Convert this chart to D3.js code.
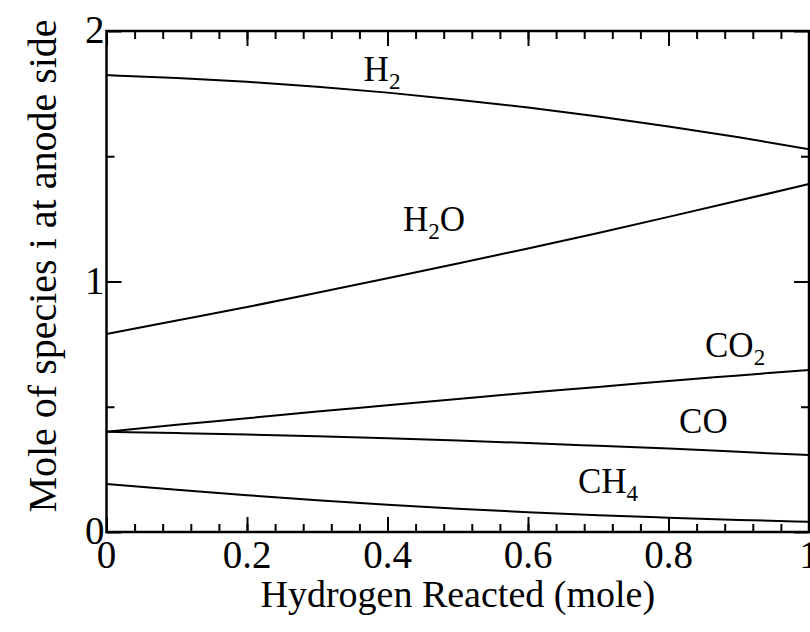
<!DOCTYPE html>
<html>
<head>
<meta charset="utf-8">
<script src="https://cdn.jsdelivr.net/npm/d3@7"></script>
<style>
  html, body { margin: 0; padding: 0; background: #ffffff; }
  svg { display: block; }
  text { font-family: "Liberation Serif", "Times New Roman", serif; fill: #000; }
</style>
</head>
<body>
<svg id="chart" width="810" height="632"></svg>
<script>
// Hydrogen reacted (mole) at which each species amount is given
const hydrogenReacted = [0, 0.1, 0.2, 0.3, 0.4, 0.5, 0.6, 0.7, 0.8, 0.9, 1.0];

// Moles of each species on the anode side
const h2  = [1.824, 1.812, 1.797, 1.777, 1.754, 1.726, 1.695, 1.659, 1.619, 1.576, 1.528];
const h2o = [0.790, 0.844, 0.898, 0.955, 1.013, 1.072, 1.132, 1.194, 1.258, 1.323, 1.389];
const co2 = [0.400, 0.428, 0.454, 0.481, 0.506, 0.531, 0.556, 0.579, 0.603, 0.625, 0.647];
const co  = [0.400, 0.395, 0.389, 0.382, 0.374, 0.365, 0.355, 0.344, 0.333, 0.320, 0.307];
const ch4 = [0.192, 0.169, 0.147, 0.127, 0.109, 0.093, 0.079, 0.067, 0.057, 0.048, 0.041];

// Axis tick values
const xMajorTicks = [0, 0.2, 0.4, 0.6, 0.8, 1];
const xTickLabels = ["0", "0.2", "0.4", "0.6", "0.8", "1"];
const xMinorTicks = d3.range(0, 1.0001, 0.04);
const yMajorTicks = [0, 1, 2];
const yTickLabels = ["0", "1", "2"];
const yMinorTicks = [0.5, 1.5];

// Curve labels: base text, subscript, trailing text, anchor point in data units
const seriesLabels = [
  { base: "H", sub: "2", tail: "",  x: 0.366, y: 1.80 },
  { base: "H", sub: "2", tail: "O", x: 0.422, y: 1.20 },
  { base: "CO", sub: "2", tail: "", x: 0.852, y: 0.698 },
  { base: "CO", sub: "",  tail: "", x: 0.815, y: 0.395 },
  { base: "CH", sub: "4", tail: "", x: 0.671, y: 0.155 }
];

const series = [h2, h2o, co2, co, ch4];

const svg = d3.select("#chart");
const plotLeft = 106.5, plotRight = 809, plotTop = 31, plotBottom = 532;

const x = d3.scaleLinear().domain([0, 1]).range([plotLeft, plotRight]);
const y = d3.scaleLinear().domain([0, 2]).range([plotBottom, plotTop]);

// Curves
const line = d3.line()
  .x((d, i) => x(hydrogenReacted[i]))
  .y(d => y(d))
  .curve(d3.curveMonotoneX);

svg.append("g")
  .selectAll("path")
  .data(series)
  .join("path")
  .attr("d", line)
  .attr("fill", "none")
  .attr("stroke", "#000")
  .attr("stroke-width", 2);

// Inward ticks on all four sides
function addAxis(axisGen, tx, ty, values, size) {
  const g = svg.append("g")
    .attr("transform", `translate(${tx},${ty})`)
    .call(axisGen.tickValues(values).tickSize(size).tickFormat(""));
  g.select(".domain").remove();
  g.selectAll(".tick line").attr("stroke", "#000").attr("stroke-width", 2);
  return g;
}
const majorLen = 15, minorLen = 8;
addAxis(d3.axisTop(x), 0, plotBottom, xMajorTicks, majorLen);
addAxis(d3.axisTop(x), 0, plotBottom, xMinorTicks, minorLen);
addAxis(d3.axisBottom(x), 0, plotTop, xMajorTicks, majorLen);
addAxis(d3.axisBottom(x), 0, plotTop, xMinorTicks, minorLen);
addAxis(d3.axisRight(y), plotLeft, 0, yMajorTicks, majorLen);
addAxis(d3.axisRight(y), plotLeft, 0, yMinorTicks, minorLen);
addAxis(d3.axisLeft(y), plotRight, 0, yMajorTicks, majorLen);
addAxis(d3.axisLeft(y), plotRight, 0, yMinorTicks, minorLen);

// Plot frame
svg.append("rect")
  .attr("x", plotLeft).attr("y", plotTop)
  .attr("width", plotRight - plotLeft).attr("height", plotBottom - plotTop)
  .attr("fill", "none")
  .attr("stroke", "#000")
  .attr("stroke-width", 2.5);

// Tick labels
svg.append("g")
  .selectAll("text")
  .data(xMajorTicks)
  .join("text")
  .attr("x", d => x(d))
  .attr("y", 568)
  .attr("text-anchor", "middle")
  .attr("font-size", 39)
  .text((d, i) => xTickLabels[i]);

svg.append("g")
  .selectAll("text")
  .data(yMajorTicks)
  .join("text")
  .attr("x", plotLeft - 2)
  .attr("y", d => y(d) + 12)
  .attr("text-anchor", "end")
  .attr("font-size", 39)
  .text((d, i) => yTickLabels[i]);

// Axis titles
svg.append("text")
  .attr("x", (plotLeft + plotRight) / 2)
  .attr("y", 607)
  .attr("text-anchor", "middle")
  .attr("font-size", 38)
  .text("Hydrogen Reacted (mole)");

svg.append("text")
  .attr("transform", "translate(56,266) rotate(-90)")
  .attr("text-anchor", "middle")
  .attr("font-size", 40)
  .text("Mole of species i at anode side");

// Curve labels with chemical subscripts
const lbl = svg.append("g")
  .selectAll("text")
  .data(seriesLabels)
  .join("text")
  .attr("x", d => x(d.x))
  .attr("y", d => y(d.y))
  .attr("font-size", 35);
lbl.append("tspan").text(d => d.base);
lbl.filter(d => d.sub)
  .append("tspan")
  .attr("font-size", 23)
  .attr("dy", 8)
  .text(d => d.sub);
lbl.filter(d => d.tail)
  .append("tspan")
  .attr("dy", -8)
  .text(d => d.tail);
</script>
</body>
</html>
